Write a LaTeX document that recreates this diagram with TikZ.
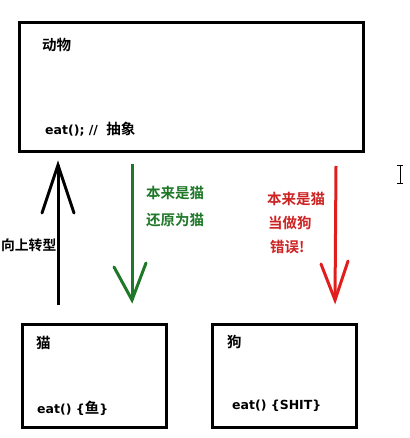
\documentclass[tikz,border=0pt]{standalone}
\usepackage{fontspec}
\setmainfont{DejaVu Sans}
\newfontfamily\cjk{Noto Sans CJK SC Bold}
\newfontfamily\lat{DejaVu Sans Bold}
\definecolor{ggreen}{RGB}{30,120,40}
\definecolor{rred}{RGB}{225,30,30}
\definecolor{tred}{RGB}{205,35,35}
\begin{document}
\begin{tikzpicture}[x=1pt,y=-1pt,
  box/.style={draw=black,line width=3pt,fill=white},
  cn/.style={font=\cjk\fontsize{14.5}{16}\selectfont,inner sep=0pt,anchor=west},
  code/.style={font=\lat\fontsize{12.5}{14}\selectfont,inner sep=0pt,anchor=west},
  shaft/.style={line width=3pt},
  wing/.style={line width=3pt,line cap=round}]
\useasboundingbox (0,0) rectangle (409,438);
% boxes
\draw[box] (19,23) rectangle (363,152);
\draw[box] (22,324) rectangle (166,427);
\draw[box] (212,324) rectangle (356,427);
\node[cn] (animal) at (42,45) {动物};
\node[code] (animaleat) at (45,129) {eat(); //\hspace{4pt} {\cjk\fontsize{14.5}{16}\selectfont 抽象}};
\node[cn] (cat) at (36,343) {猫};
\node[code] (cateat) at (37,408) {eat() \{{\cjk\fontsize{14.5}{16}\selectfont 鱼}\}};
\node[cn] (dog) at (227,342) {狗};
\node[code] (dogeat) at (232,406) {eat() \{SHIT\}};
% black upcast arrow
\coordinate (bs) at (58,305);
\coordinate (bt) at (58,165);
\coordinate (bl) at (42,213);
\coordinate (br) at (74,213);
\draw[shaft] (bs) -- (bt);
\draw[wing] (bl) -- (bt) -- (br);
\node[cn,anchor=east,font=\cjk\fontsize{13.8}{16}\selectfont] (up) at (56.5,245) {向上转型};
% green arrow
\coordinate (gs) at (132,164);
\coordinate (gt) at (132,300);
\coordinate (gl) at (114,267);
\coordinate (gr) at (146,263);
\draw[shaft,ggreen] (gs) -- (gt);
\draw[wing,ggreen] (gl) -- (gt) -- (gr);
\node[cn,text=ggreen] (g1) at (146,193) {本来是猫};
\node[cn,text=ggreen] (g2) at (146,220) {还原为猫};
% red arrow
\coordinate (rs) at (336,166);
\coordinate (rt) at (335,300);
\coordinate (rl) at (321,264);
\coordinate (rr) at (348,261);
\draw[shaft,rred] (rs) -- (rt);
\draw[wing,rred] (rl) -- (rt) -- (rr);
\node[cn,text=tred] (r1) at (267,199) {本来是猫};
\node[cn,text=tred] (r2) at (268,223) {当做狗};
\node[cn,text=tred] (r3) at (270,247) {错误!};
% text cursor
\coordinate (ct) at (400,165);
\coordinate (cb) at (400,183);
\draw[line width=0.8pt] (ct) -- (cb);
\draw[line width=0.8pt] (397,165) -- (403,165) (397,183) -- (403,183);
\end{tikzpicture}
\end{document}
